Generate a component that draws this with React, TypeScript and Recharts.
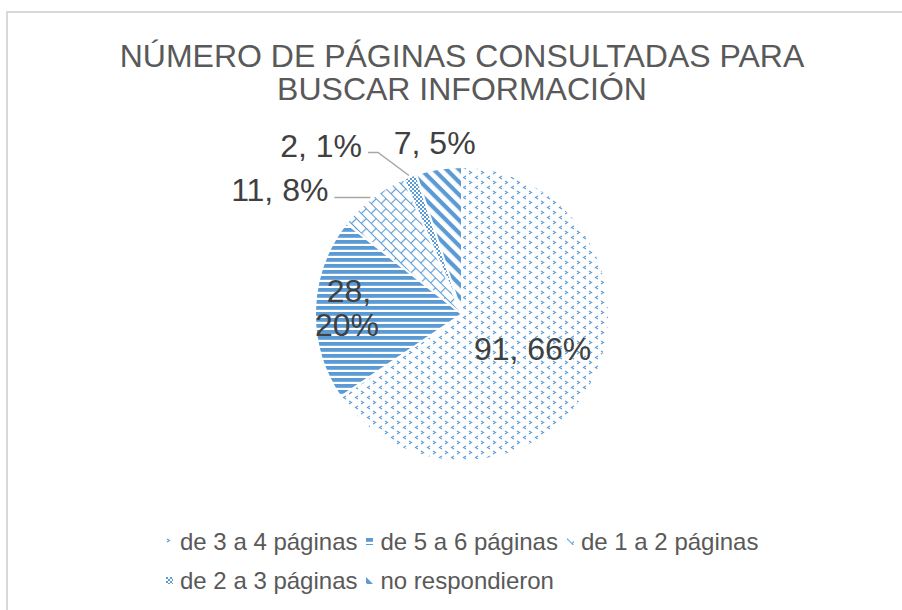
import React from 'react';
import { PieChart, Pie, Cell, Legend } from 'recharts';

const CATEGORIES = ['de 3 a 4 páginas', 'de 5 a 6 páginas', 'de 1 a 2 páginas', 'de 2 a 3 páginas', 'no respondieron'];
const COUNTS = [91, 28, 11, 2, 7];
const PERCENTS = ['66%', '20%', '8%', '1%', '5%'];
const TITLE_LINES = ['NÚMERO DE PÁGINAS CONSULTADAS PARA', 'BUSCAR INFORMACIÓN'];
const LEGEND_ROWS = [[0, 1, 2], [3, 4]];

const BLUE = '#5B9BD5';
const LABEL_COLOR = '#404040';
const TEXT_COLOR = '#595959';
const FONT = '"Liberation Sans", Arial, sans-serif';
const RADIAN = Math.PI / 180;

const data = CATEGORIES.map((name, i) => ({ name, value: COUNTS[i] }));

// Office-like pattern fills, shared by pie slices and legend keys
const PatternDefs = () => (
  <svg width={0} height={0} style={{ position: 'absolute' }}>
    <defs>
      <pattern id="pat-0" width={12} height={10} patternUnits="userSpaceOnUse">
        <rect width={12} height={10} fill="#fff" />
        <path d="M1 1 L3.5 2.5 L1 4" stroke={BLUE} strokeWidth={1.1} fill="none" />
        <path d="M10 6 L7.5 7.5 L10 9" stroke={BLUE} strokeWidth={1.1} fill="none" />
      </pattern>
      <pattern id="pat-1" width={6} height={6} patternUnits="userSpaceOnUse">
        <rect width={6} height={6} fill="#fff" />
        <rect width={6} height={3.8} fill={BLUE} />
      </pattern>
      <pattern id="pat-2" width={14} height={14} patternUnits="userSpaceOnUse" patternTransform="rotate(45)">
        <rect width={14} height={14} fill="#fff" />
        <path d="M0 0.5 H14 M0.5 0 V7 M0 7.5 H14 M7.5 7 V14" stroke={BLUE} strokeWidth={1.2} fill="none" />
      </pattern>
      <pattern id="pat-3" width={4} height={4} patternUnits="userSpaceOnUse">
        <rect width={4} height={4} fill="#fff" />
        <rect width={2} height={2} fill={BLUE} />
        <rect x={2} y={2} width={2} height={2} fill={BLUE} />
      </pattern>
      <pattern id="pat-4" width={9} height={9} patternUnits="userSpaceOnUse" patternTransform="rotate(45)">
        <rect width={9} height={9} fill="#fff" />
        <rect width={9} height={4.2} fill={BLUE} />
      </pattern>
    </defs>
  </svg>
);

const renderLabel = (props: any) => {
  const { cx, cy, midAngle, outerRadius, index } = props;
  const cos = Math.cos(-midAngle * RADIAN);
  const sin = Math.sin(-midAngle * RADIAN);
  const at = (f: number) => [cx + outerRadius * f * cos, cy + outerRadius * f * sin];
  const text = `${COUNTS[index]}, ${PERCENTS[index]}`;
  const style = { fill: LABEL_COLOR, fontSize: 32, fontFamily: FONT };
  const leader = { stroke: '#A6A6A6', strokeWidth: 1.5, fill: 'none' };

  if (index === 0) {
    const [x, y] = at(0.52);
    return <text x={x + 3} y={y - 1} textAnchor="middle" dominantBaseline="central" {...style}>{text}</text>;
  }
  if (index === 1) {
    // didn't fit on one line, wraps like the original
    const [x, y] = at(0.79);
    return (
      <g>
        <text x={x + 3} y={y - 19} textAnchor="middle" dominantBaseline="central" {...style}>{`${COUNTS[index]},`}</text>
        <text x={x + 1} y={y + 15} textAnchor="middle" dominantBaseline="central" {...style}>{PERCENTS[index]}</text>
      </g>
    );
  }
  if (index === 2) {
    const [x, y] = at(1);
    return (
      <g>
        <path d={`M${x - 2} ${y} H${x - 38}`} {...leader} />
        <text x={x - 44} y={y - 7} textAnchor="end" dominantBaseline="central" {...style}>{text}</text>
      </g>
    );
  }
  if (index === 3) {
    const [x, y] = at(1);
    return (
      <g>
        <path d={`M${x - 1} ${y - 1} L${x - 32} ${y - 24} H${x - 42}`} {...leader} />
        <text x={x - 48} y={y - 31} textAnchor="end" dominantBaseline="central" {...style}>{text}</text>
      </g>
    );
  }
  const [x, y] = at(1.18);
  return <text x={x} y={y} textAnchor="middle" dominantBaseline="central" {...style}>{text}</text>;
};

const renderLegend = () => (
  <div style={{ fontFamily: FONT, fontSize: 24, color: TEXT_COLOR }}>
    {LEGEND_ROWS.map((row, r) => (
      <div key={r} style={{ display: 'flex', alignItems: 'center', height: 39, whiteSpace: 'nowrap' }}>
        {row.map((i) => (
          <span key={i} style={{ display: 'inline-flex', alignItems: 'center', marginRight: 9 }}>
            <svg width={7} height={7} style={{ marginRight: 7 }}>
              <rect width={7} height={7} fill={`url(#pat-${i})`} />
            </svg>
            {CATEGORIES[i]}
          </span>
        ))}
      </div>
    ))}
  </div>
);

export default function App() {
  return (
    <div style={{ position: 'fixed', left: 0, top: 0, width: 902, height: 610, overflow: 'hidden', background: '#fff' }}>
      <PatternDefs />
      <div
        style={{
          position: 'absolute', left: 6, top: 11, width: 1000, height: 700,
          border: '2px solid #D9D9D9', boxSizing: 'border-box',
        }}
      />
      <div
        style={{
          position: 'absolute', left: 0, top: 40, width: 924, textAlign: 'center',
          fontFamily: FONT, fontSize: 32, lineHeight: '33px', color: TEXT_COLOR,
        }}
      >
        {TITLE_LINES.map((line) => <div key={line}>{line}</div>)}
      </div>
      <div style={{ position: 'absolute', left: 0, top: 0 }}>
        <PieChart width={902} height={610}>
          <Pie
            data={data}
            dataKey="value"
            nameKey="name"
            cx={457}
            cy={309}
            outerRadius={147}
            startAngle={90}
            endAngle={-270}
            stroke="#FFFFFF"
            strokeWidth={2}
            label={renderLabel}
            labelLine={false}
            isAnimationActive={false}
          >
            {data.map((d, i) => (
              <Cell key={d.name} fill={`url(#pat-${i})`} />
            ))}
          </Pie>
          <Legend
            content={renderLegend}
            wrapperStyle={{ position: 'absolute', left: 166, top: 522, width: 720 }}
          />
        </PieChart>
      </div>
    </div>
  );
}
